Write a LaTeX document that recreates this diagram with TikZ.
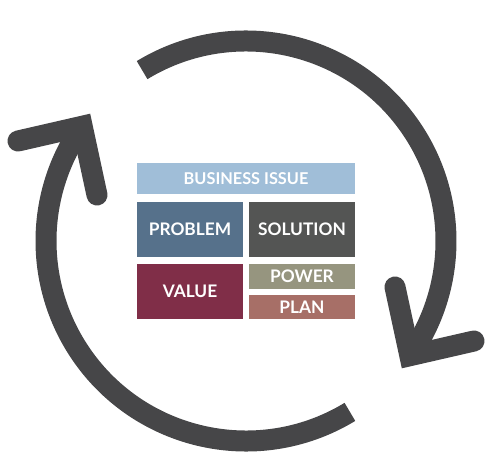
\documentclass[tikz,border=0pt]{standalone}
\usepackage{fontspec}
\setmainfont{Lato}
\usepackage{xcolor}
\usetikzlibrary{positioning}
\definecolor{ringgray}{HTML}{464648}
\definecolor{issueblue}{HTML}{A0BED8}
\definecolor{problemblue}{HTML}{56718B}
\definecolor{solutiongray}{HTML}{545554}
\definecolor{valuered}{HTML}{802E48}
\definecolor{powerolive}{HTML}{96957F}
\definecolor{planrose}{HTML}{A76F67}
\tikzset{
  ring/.style={draw=ringgray,line width=5.25mm,line cap=butt},
  barb/.style={draw=ringgray,line width=5.25mm,line cap=round,line join=miter},
  tile/.style={inner sep=0pt,text=white,minimum width=26.5mm,
               font=\fontsize{12.3}{14}\selectfont\bfseries},
  bigtile/.style={tile,minimum height=13.75mm},
  smalltile/.style={tile,minimum height=6.15mm}
}
\begin{document}
\begin{tikzpicture}[x=0.25mm,y=0.25mm]
    \path[use as bounding box] (-246,-230) rectangle (240,241);

    % the two arcs of the cycle
    \draw[ring] (121.3:200) arc[start angle=121.3,end angle=-35,radius=200];
    \draw[ring] (-58.7:200) arc[start angle=-58.7,end angle=-215,radius=200];
    \draw[barb] (149,-46) -- (-35:200) -- (228,-100);
    \draw[barb] (-149,46) -- (145:200) -- (-228,100);

    % the tiles
    \node[tile,fill=issueblue,minimum width=54.5mm,minimum height=7.75mm,
          font=\fontsize{11.6}{13}\selectfont\bfseries] (issue) at (0,62.5)
      {BUSINESS ISSUE};
    \node[bigtile,fill=problemblue] (problem) at (-56,11.5) {PROBLEM};
    \node[bigtile,fill=solutiongray] (solution) at (56,11.5) {SOLUTION};
    \node[bigtile,fill=valuered] (value) at (-56,-50.5) {VALUE};
    \node[smalltile,fill=powerolive] (power) at (56,-35.5) {POWER};
    \node[smalltile,fill=planrose] (plan) at (56,-66) {PLAN};
  \end{tikzpicture}
\end{document}
